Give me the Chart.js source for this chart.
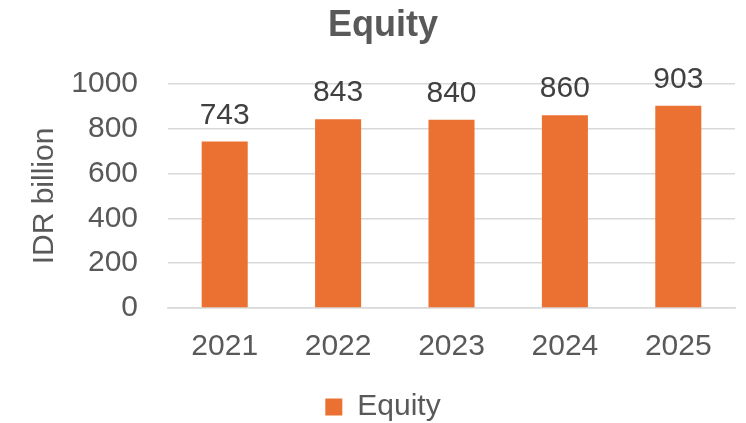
<!DOCTYPE html>
<html><head><meta charset="utf-8">
<script src="https://cdn.jsdelivr.net/npm/chart.js@4"></script>
<style>html,body{margin:0;padding:0;background:#fff}canvas{display:block}</style>
</head><body>
<canvas id="c" width="746" height="423"></canvas>
<script>
const categories = ['2021','2022','2023','2024','2025'];
const equityValues = [743, 843, 840, 860, 903];
const yTicks = [0, 200, 400, 600, 800, 1000];

const FONT = "'Liberation Sans', Arial, sans-serif";

const valueLabels = {
  id: 'valueLabels',
  afterDatasetsDraw(chart) {
    const ctx = chart.ctx;
    const meta = chart.getDatasetMeta(0);
    ctx.save();
    ctx.font = '30px ' + FONT;
    ctx.fillStyle = '#404040';
    ctx.textAlign = 'center';
    ctx.textBaseline = 'alphabetic';
    meta.data.forEach((bar, i) => {
      ctx.fillText(String(equityValues[i]), bar.x, bar.y - 18);
    });
    ctx.restore();
  }
};

new Chart(document.getElementById('c'), {
  type: 'bar',
  data: {
    labels: categories,
    datasets: [{
      label: 'Equity',
      data: equityValues,
      backgroundColor: '#EB7132',
      borderWidth: 0,
      categoryPercentage: 1,
      barPercentage: 0.406
    }]
  },
  options: {
    responsive: false,
    animation: false,
    layout: { padding: { left: 31, right: 11, top: 0, bottom: -9 } },
    plugins: {
      title: {
        display: true,
        text: 'Equity',
        color: '#595959',
        font: { family: FONT, size: 36, weight: 'bold' },
        padding: { top: 4.4, bottom: 36.4 }
      },
      legend: {
        position: 'bottom',
        labels: {
          color: '#595959',
          font: { family: FONT, size: 30 },
          boxWidth: 17,
          boxHeight: 17,
          padding: 3
        }
      },
      tooltip: { enabled: false }
    },
    scales: {
      x: {
        grid: { display: false, drawTicks: false },
        border: { display: true, color: '#D9D9D9', width: 1.5 },
        ticks: { color: '#595959', font: { family: FONT, size: 30 }, padding: 21 },
        afterFit(axis) { axis.height = 81; }
      },
      y: {
        min: 0, max: 1000,
        afterBuildTicks(axis) { axis.ticks = yTicks.map(v => ({ value: v })); },
        grid: { color: '#D9D9D9', lineWidth: 1.5, drawTicks: false },
        border: { display: false },
        ticks: {
          color: '#595959', font: { family: FONT, size: 30 }, padding: 30,
          callback: (v) => String(v)
        },
        title: {
          display: true,
          text: 'IDR billion',
          color: '#595959',
          font: { family: FONT, size: 30 },
          padding: { top: -4, bottom: 0 }
        },
        afterFit(axis) { axis.width = 137; }
      }
    }
  },
  plugins: [valueLabels]
});
</script>
</body></html>
